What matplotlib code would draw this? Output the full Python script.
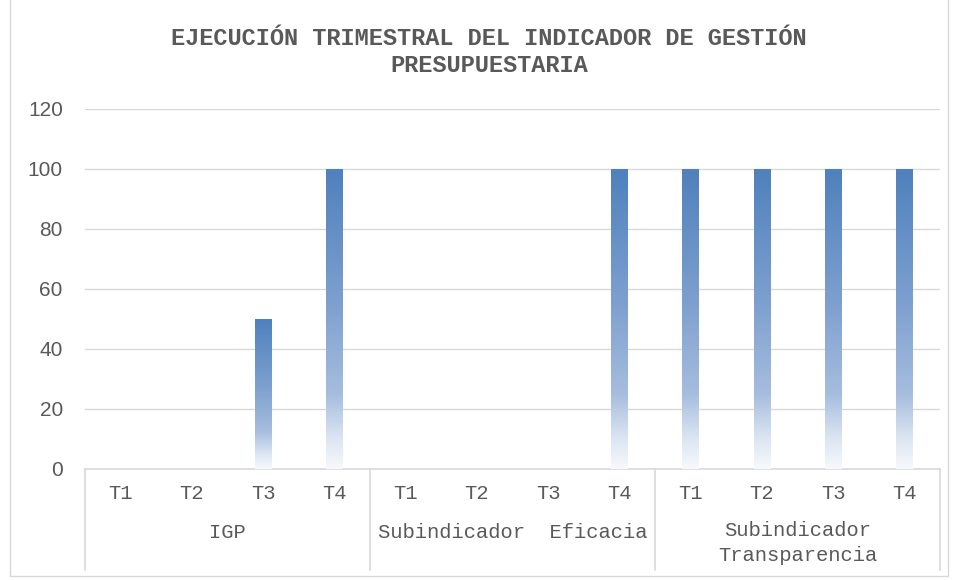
import numpy as np
import matplotlib
matplotlib.use('Agg')
import matplotlib.pyplot as plt
from matplotlib.colors import LinearSegmentedColormap
from matplotlib.patches import Rectangle

# datos
grupos = ['IGP', 'Subindicador  Eficacia', 'Subindicador\nTransparencia']
trimestres = ['T1', 'T2', 'T3', 'T4']
igp = [0, 0, 50, 100]
eficacia = [0, 0, 0, 100]
transparencia = [100, 100, 100, 100]
titulo = 'EJECUCIÓN TRIMESTRAL DEL INDICADOR DE GESTIÓN\nPRESUPUESTARIA'

valores = igp + eficacia + transparencia
gris = '#595959'
mono = ['Liberation Mono', 'DejaVu Sans Mono']

# degradado estilo Excel (abajo claro, arriba azul)
cmap = LinearSegmentedColormap.from_list('excel_blue', [
    (0.0, '#F7F9FC'), (0.10, '#DCE5F2'), (0.25, '#A6BDDE'),
    (0.55, '#7EA0CF'), (1.0, '#4F81BD')])

fig = plt.figure(figsize=(9.58, 5.8), dpi=100)
ax = fig.add_axes([85 / 958, 111 / 580, 855 / 958, 360 / 580])

x = np.arange(len(valores))
bars = ax.bar(x, valores, width=0.23, color='none', edgecolor='none', zorder=3)
grad = np.linspace(1, 0, 256).reshape(-1, 1)
for b in bars:
    h = b.get_height()
    if h <= 0:
        continue
    x0 = b.get_x()
    im = ax.imshow(grad, cmap=cmap, aspect='auto', origin='upper',
                   extent=[x0, x0 + b.get_width(), 0, h], zorder=3,
                   interpolation='bilinear')
    im.set_clip_path(b)

ax.set_xlim(-0.5, len(valores) - 0.5)
ax.set_ylim(0, 120)
ax.set_yticks(range(0, 121, 20))
ax.yaxis.grid(True, color='#D9D9D9', linewidth=1)
ax.set_axisbelow(True)
for s in ['top', 'right', 'left']:
    ax.spines[s].set_visible(False)
ax.spines['bottom'].set_color('#D9D9D9')
ax.spines['bottom'].set_linewidth(1.2)
ax.tick_params(axis='y', length=0, pad=16, labelsize=15, labelcolor=gris)
for lb in ax.get_yticklabels():
    lb.set_fontfamily('Liberation Sans')
ax.set_xticks([])

tr = ax.get_xaxis_transform()
for i, t in enumerate(trimestres * len(grupos)):
    ax.text(i, -0.068, t, transform=tr, ha='center', va='center',
            fontsize=14.8, color=gris, family=mono)
for g, nombre in enumerate(grupos):
    cx = g * 4 + 1.5
    yy = -0.175 if '\n' not in nombre else -0.206
    ax.text(cx, yy, nombre, transform=tr, ha='center', va='center',
            fontsize=14.8, color=gris, family=mono, linespacing=1.4)
for k in range(len(grupos) + 1):
    ax.plot([k * 4 - 0.5] * 2, [0, -0.28], transform=tr, color='#D9D9D9',
            linewidth=1.2, clip_on=False)

fig.text(489 / 958, 1 - 52 / 580, titulo, ha='center', va='center',
         fontsize=17, fontweight='bold', color=gris, family=mono,
         linespacing=1.25)

fig.patches.append(Rectangle((10 / 958, 4 / 580), 938 / 958, 586 / 580,
                             transform=fig.transFigure, fill=False,
                             edgecolor='#D9D9D9', linewidth=1))

fig.savefig('out.png', dpi=100, facecolor='white')
